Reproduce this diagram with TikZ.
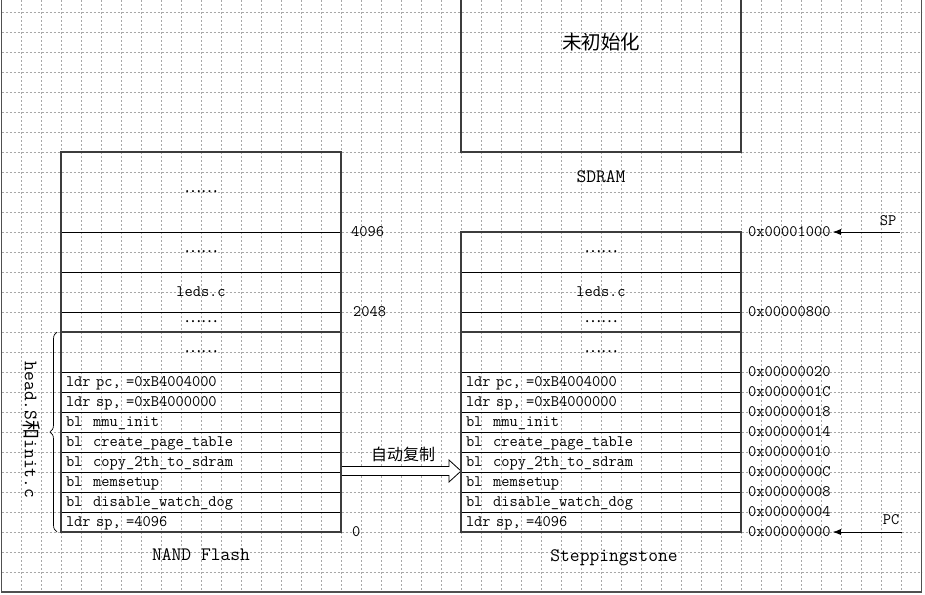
\documentclass[tikz,border=0pt]{standalone}
\usepackage{fontspec}
\newfontfamily\cjk{Noto Sans CJK SC}
\usetikzlibrary{positioning, calc, arrows.meta, decorations.pathreplacing}
\usepackage{xcolor}
\definecolor{FrameGray}{HTML}{3C3C3C}
\definecolor{GridGray}{HTML}{A8A8A8}
\definecolor{EdgeGray}{HTML}{505050}
\newcommand{\elide}{{\cjk\fontsize{15.5}{17}\selectfont ……}}

\begin{document}
\begin{tikzpicture}[
  x=1pt, y=-1pt,
  node distance=0pt,
  memrow/.style={rectangle, draw=black, line width=0.6pt, minimum width=280pt,
    minimum height=20pt, inner sep=0pt, outer sep=0pt,
    font=\ttfamily\fontsize{16}{18}\selectfont},
  coderow/.style={memrow, text width=270pt, align=left, text height=11pt,
    text depth=3pt},
  frame/.style={draw=FrameGray, line width=1.6pt},
  gridline/.style={draw=GridGray, line width=0.5pt, dash pattern=on 2pt off 2pt},
  addr/.style={font=\ttfamily\fontsize{16}{18}\selectfont, inner sep=2pt,
    anchor=west, xshift=5pt},
  title/.style={font=\ttfamily\fontsize{19}{22}\selectfont},
  ptr/.style={-{Latex[length=8pt,width=6pt]}, line width=0.8pt},
  brace/.style={decorate, decoration={brace, amplitude=7pt}, line width=0.7pt},
  copyarr/.style={draw=black, fill=white, line width=0.8pt, line join=miter}
]
  \useasboundingbox (0,0) rectangle (925,594);

  % grid and page edge
  \foreach \gx in {21,41,...,901} \draw[gridline] (\gx,0) -- (\gx,592);
  \foreach \gy in {12,32,...,572} \draw[gridline] (1.5,\gy) -- (921.5,\gy);
  \draw[line width=1.6pt, draw=EdgeGray] (1.5,0) -- (1.5,592) -- (921.5,592) -- (921.5,0);

  % SDRAM
  \node[memrow, frame, minimum height=160pt] (sdram) at (601,72) {};
  \node[font=\cjk\fontsize{19.5}{22}\selectfont] (uninit) at (601,42) {未初始化};
  \node[title] (sdramlbl) at (601,177) {SDRAM};

  % NAND Flash
  \node[memrow, minimum height=80pt] (nf1) at (201,192) {\elide};
  \node[memrow, minimum height=40pt, below=of nf1] (nf2) {\elide};
  \node[memrow, minimum height=40pt, below=of nf2] (nf3) {leds.c};
  \node[memrow, below=of nf3] (nf4) {\elide};
  \node[memrow, minimum height=40pt, below=of nf4] (nf5) {\elide};
  \node[coderow, below=of nf5] (nfpc) {ldr pc, =0xB4004000};
  \node[coderow, below=of nfpc] (nfsp) {ldr sp, =0xB4000000};
  \node[coderow, below=of nfsp] (nfmmu) {bl\ \ mmu\_init};
  \node[coderow, below=of nfmmu] (nfpage) {bl\ \ create\_page\_table};
  \node[coderow, below=of nfpage] (nfcopy) {bl\ \ copy\_2th\_to\_sdram};
  \node[coderow, below=of nfcopy] (nfmem) {bl\ \ memsetup};
  \node[coderow, below=of nfmem] (nfwdog) {bl\ \ disable\_watch\_dog};
  \node[coderow, below=of nfwdog] (nfstack) {ldr sp, =4096};
  \node[title] (nandlbl) at (201,555) {NAND Flash};

  % Steppingstone
  \node[memrow, minimum height=40pt] (ss1) at (601,252) {\elide};
  \node[memrow, minimum height=40pt, below=of ss1] (ss2) {leds.c};
  \node[memrow, below=of ss2] (ss3) {\elide};
  \node[memrow, minimum height=40pt, below=of ss3] (ss4) {\elide};
  \node[coderow, below=of ss4] (sspc) {ldr pc, =0xB4004000};
  \node[coderow, below=of sspc] (sssp) {ldr sp, =0xB4000000};
  \node[coderow, below=of sssp] (ssmmu) {bl\ \ mmu\_init};
  \node[coderow, below=of ssmmu] (sspage) {bl\ \ create\_page\_table};
  \node[coderow, below=of sspage] (sscopy) {bl\ \ copy\_2th\_to\_sdram};
  \node[coderow, below=of sscopy] (ssmem) {bl\ \ memsetup};
  \node[coderow, below=of ssmem] (sswdog) {bl\ \ disable\_watch\_dog};
  \node[coderow, below=of sswdog] (ssstack) {ldr sp, =4096};
  \node[title] (stonelbl) at (614,558) {Steppingstone};

  % copy arrow
  \coordinate (cptail) at ($(nfcopy.south east)+(0,-1)$);
  \coordinate (cptip) at ($(sscopy.south west)+(0,-1)$);
  \draw[copyarr] ($(cptail)+(0,-4.5)$) -- ($(cptip)+(-12,-4.5)$) -- ($(cptip)+(-12,-11)$)
    -- (cptip) -- ($(cptip)+(-12,11)$) -- ($(cptip)+(-12,4.5)$) -- ($(cptail)+(0,4.5)$);
  \node[font=\cjk\fontsize{16}{18}\selectfont] (copylbl) at (403,454) {自动复制};

  \draw[frame] (nf1.north west) rectangle (nfstack.south east);
  \draw[frame] (nf5.north west) -- (nf5.north east);
  \draw[frame] (ss1.north west) rectangle (ssstack.south east);
  \draw[frame] (ss4.north west) -- (ss4.north east);

  % offsets in NAND Flash
  \node[addr, xshift=3pt] (n4096) at (nf1.south east) {4096};
  \node[addr, xshift=5pt] (n2048) at (nf3.south east) {2048};
  \node[addr, xshift=4pt] (nzero) at (nfstack.south east) {0};

  % addresses in Steppingstone
  \node[addr] (a1000) at (ss1.north east) {0x00001000};
  \node[addr] (a0800) at (ss3.north east) {0x00000800};
  \node[addr] (a20) at (sspc.north east) {0x00000020};
  \node[addr] (a1c) at (sssp.north east) {0x0000001C};
  \node[addr] (a18) at (ssmmu.north east) {0x00000018};
  \node[addr] (a14) at (sspage.north east) {0x00000014};
  \node[addr] (a10) at (sscopy.north east) {0x00000010};
  \node[addr] (a0c) at (ssmem.north east) {0x0000000C};
  \node[addr] (a08) at (sswdog.north east) {0x00000008};
  \node[addr] (a04) at (ssstack.north east) {0x00000004};
  \node[addr] (a00) at (ssstack.south east) {0x00000000};

  % SP and PC
  \coordinate (spfrom) at (900,232);
  \coordinate (pcfrom) at (902,532);
  \draw[ptr] (spfrom) -- (a1000.east);
  \draw[ptr] (pcfrom) -- (pcfrom -| a00.east);
  \node[font=\ttfamily\fontsize{16}{18}\selectfont] (splbl) at (888,221) {SP};
  \node[font=\ttfamily\fontsize{16}{18}\selectfont] (pclbl) at (891,520) {PC};

  % source files
  \draw[brace] ($(nfstack.south west)+(-4,0)$) -- ($(nf5.north west)+(-4,0)$);
  \node[rotate=-90, font=\ttfamily\fontsize{19}{22}\selectfont] (srclbl) at (32,430)
    {head.S{\cjk 和}init.c};
\end{tikzpicture}
\end{document}
